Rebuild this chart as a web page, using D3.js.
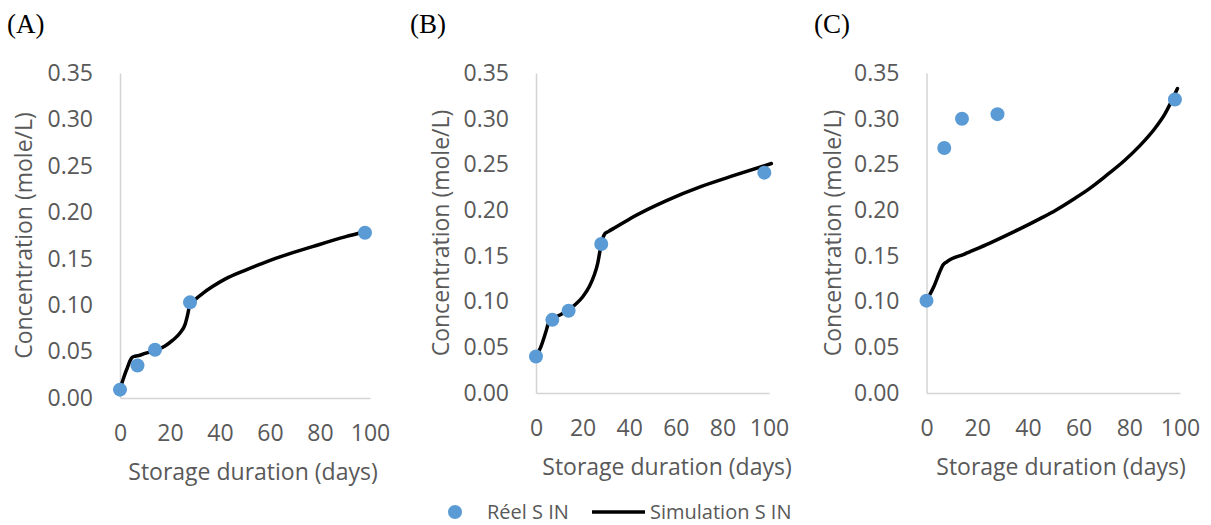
<!DOCTYPE html>
<html>
<head>
<meta charset="utf-8">
<script src="https://cdn.jsdelivr.net/npm/d3@7"></script>
<style>
  body { margin: 0; background: #fff; }
  .tick text { font-family: "Open Sans", sans-serif; font-size: 23px; fill: #595959; }
  .domain { stroke: #d4d4d4; stroke-width: 1.5; }
</style>
</head>
<body>
<div id="chart"></div>
<script>
// measured days (Réel S IN)
var days = [0, 7, 14, 28, 98];
var reelA = [0.009, 0.035, 0.052, 0.103, 0.178];
var reelB = [0.040, 0.080, 0.090, 0.163, 0.241];
var reelC = [0.101, 0.268, 0.300, 0.305, 0.321];

// simulation curves (Simulation S IN)
var simDaysA = [0, 1, 2, 3, 4, 5, 6, 8, 10, 14, 18, 21, 24, 26, 27, 28, 30, 33, 37, 42, 50, 57, 64, 77, 90, 98];
var simA = [0.010, 0.018, 0.026, 0.033, 0.040, 0.044, 0.045, 0.046, 0.048, 0.051, 0.056, 0.062, 0.070, 0.079, 0.089, 0.101, 0.106, 0.1125, 0.120, 0.128, 0.1375, 0.145, 0.152, 0.163, 0.1735, 0.179];
var simDaysB = [0, 2, 4, 5.5, 7, 10, 14, 17, 20, 23, 25, 26.5, 27.5, 28.5, 29.5, 31, 34, 38, 42, 56, 71, 85, 101];
var simB = [0.040, 0.050, 0.065, 0.077, 0.081, 0.085, 0.091, 0.097, 0.105, 0.117, 0.129, 0.142, 0.156, 0.168, 0.174, 0.1765, 0.181, 0.187, 0.193, 0.2105, 0.226, 0.238, 0.251];
var simDaysC = [0, 1, 3, 5, 6.5, 8, 15, 25, 35, 45, 51, 58, 64, 71, 78, 84, 90, 94, 99];
var simC = [0.101, 0.106, 0.117, 0.131, 0.140, 0.1435, 0.152, 0.164, 0.177, 0.191, 0.200, 0.212, 0.223, 0.238, 0.254, 0.270, 0.289, 0.305, 0.333];

var xTicks = [0, 20, 40, 60, 80, 100];
var yTicks = [0, 0.05, 0.10, 0.15, 0.20, 0.25, 0.30, 0.35];
var panelLabels = ["(A)", "(B)", "(C)"];
var legendLabels = ["Réel S IN", "Simulation S IN"];

var width = 1211, height = 525;
var blue = "#5b9bd5";

var svg = d3.select("#chart").append("svg")
    .attr("width", width)
    .attr("height", height);

// layout for each panel
var panels = [
    {label: panelLabels[0], reel: reelA, simX: simDaysA, simY: simA, x0: 120, x1: 370, y0: 398, y1: 73, labelX: 7, yTitleX: 23, xTitleX: 253, xTitleY: 480},
    {label: panelLabels[1], reel: reelB, simX: simDaysB, simY: simB, x0: 536, x1: 769, y0: 393, y1: 73, labelX: 410, yTitleX: 440, xTitleX: 667, xTitleY: 475},
    {label: panelLabels[2], reel: reelC, simX: simDaysC, simY: simC, x0: 926.5, x1: 1180, y0: 393, y1: 73, labelX: 814, yTitleX: 832, xTitleX: 1061, xTitleY: 475}
];

panels.forEach(function(p) {
    var x = d3.scaleLinear().domain([0, 100]).range([p.x0, p.x1]);
    var y = d3.scaleLinear().domain([0, 0.35]).range([p.y0, p.y1]);

    var g = svg.append("g");

    g.append("g")
        .attr("transform", "translate(0," + p.y0 + ")")
        .call(d3.axisBottom(x).tickValues(xTicks).tickSize(0).tickPadding(27).tickFormat(d3.format("d")))
        .call(function(a) { a.selectAll(".tick line").remove(); });

    g.append("g")
        .attr("transform", "translate(" + p.x0 + ",0)")
        .call(d3.axisLeft(y).tickValues(yTicks).tickSize(0).tickPadding(27).tickFormat(d3.format(".2f")))
        .call(function(a) { a.selectAll(".tick line").remove(); });

    var simData = p.simX.map(function(d, i) { return [d, p.simY[i]]; });
    var line = d3.line()
        .x(function(d) { return x(d[0]); })
        .y(function(d) { return y(d[1]); })
        .curve(d3.curveMonotoneX);

    g.append("path")
        .datum(simData)
        .attr("d", line)
        .attr("fill", "none")
        .attr("stroke", "#000")
        .attr("stroke-width", 3.5)
        .attr("stroke-linecap", "round")
        .attr("stroke-linejoin", "round");

    g.selectAll(".pt")
        .data(days.map(function(d, i) { return [d, p.reel[i]]; }))
        .enter().append("circle")
        .attr("class", "pt")
        .attr("cx", function(d) { return x(d[0]); })
        .attr("cy", function(d) { return y(d[1]); })
        .attr("r", 7)
        .attr("fill", blue);

    g.append("text")
        .attr("x", p.labelX)
        .attr("y", 33)
        .attr("font-family", "Liberation Serif, Times New Roman, serif")
        .attr("font-size", 27)
        .attr("fill", "#000")
        .text(p.label);

    g.append("text")
        .attr("transform", "translate(" + p.yTitleX + "," + ((p.y0 + p.y1) / 2) + ") rotate(-90)")
        .attr("text-anchor", "middle")
        .attr("dominant-baseline", "central")
        .attr("font-family", "Open Sans, sans-serif")
        .attr("font-size", 23)
        .attr("fill", "#595959")
        .text("Concentration (mole/L)");

    g.append("text")
        .attr("x", p.xTitleX)
        .attr("y", p.xTitleY)
        .attr("text-anchor", "middle")
        .attr("font-family", "Open Sans, sans-serif")
        .attr("font-size", 23)
        .attr("fill", "#595959")
        .text("Storage duration (days)");
});

// legend
var legend = svg.append("g");
legend.append("circle").attr("cx", 455).attr("cy", 512).attr("r", 7).attr("fill", blue);
legend.append("text").attr("x", 487).attr("y", 519)
    .attr("font-family", "Open Sans, sans-serif").attr("font-size", 20).attr("fill", "#595959")
    .text(legendLabels[0]);
legend.append("line").attr("x1", 592).attr("x2", 645).attr("y1", 512).attr("y2", 512)
    .attr("stroke", "#000").attr("stroke-width", 3.5);
legend.append("text").attr("x", 650).attr("y", 519)
    .attr("font-family", "Open Sans, sans-serif").attr("font-size", 20).attr("fill", "#595959")
    .text(legendLabels[1]);
</script>
</body>
</html>
